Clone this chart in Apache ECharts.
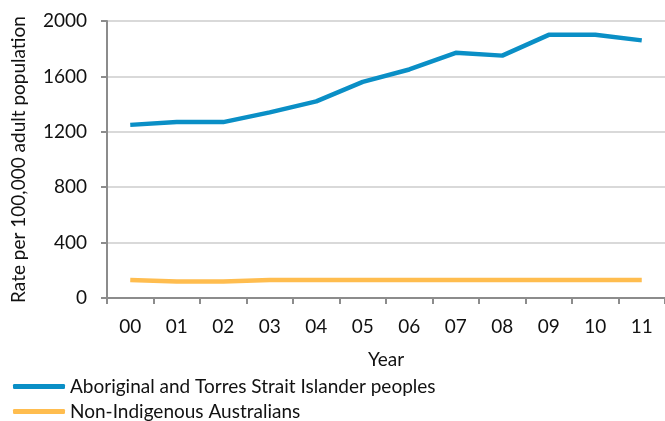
<!DOCTYPE html>
<html><head><meta charset="utf-8">
<script src="https://cdn.jsdelivr.net/npm/echarts@6/dist/echarts.min.js"></script>
<style>html,body{margin:0;padding:0;background:#fff}#c{width:665px;height:421px}</style>
</head><body><div id="c"></div>
<script>
const years = ['00','01','02','03','04','05','06','07','08','09','10','11'];
const indigenous = [1250,1270,1270,1340,1420,1560,1650,1770,1750,1900,1900,1860];
const nonIndigenous = [130,120,120,130,130,130,130,130,130,130,130,130];
const yTicks = [0,400,800,1200,1600,2000];
const seriesNames = ['Aboriginal and Torres Strait Islander peoples','Non-Indigenous Australians'];
const FONT = 'Lato';
const TXT = '#111';
const chart = echarts.init(document.getElementById('c'));
chart.setOption({
  animation:false,
  textStyle:{fontFamily:FONT},
  grid:{left:107,top:21,right:0,bottom:123},
  legend:{
    orient:'vertical',left:13,top:377,itemWidth:52,itemHeight:5,itemGap:6,padding:0,
    textStyle:{fontFamily:FONT,fontSize:19,color:TXT},
    data:seriesNames.map(n=>({name:n,icon:'roundRect'}))
  },
  xAxis:{
    type:'category',data:years,boundaryGap:true,
    name:'Year',nameLocation:'middle',nameGap:52,
    nameTextStyle:{fontFamily:FONT,fontSize:19,color:TXT},
    axisLine:{lineStyle:{color:'#8c8c8c',width:2}},
    axisTick:{show:true,length:6,lineStyle:{color:'#8c8c8c',width:2}},
    axisLabel:{fontFamily:FONT,fontSize:19,color:TXT,margin:19},
    splitLine:{show:false}
  },
  yAxis:{
    type:'value',min:0,max:2000,interval:400,
    name:'Rate per 100,000 adult population',nameLocation:'middle',nameGap:79,
    nameTextStyle:{fontFamily:FONT,fontSize:19,color:TXT},
    axisLine:{show:true,lineStyle:{color:'#8c8c8c',width:2}},
    axisTick:{show:true,length:6,lineStyle:{color:'#8c8c8c',width:2}},
    axisLabel:{fontFamily:FONT,fontSize:19,color:TXT,margin:20,
      formatter:v=>yTicks.includes(v)?String(v):''},
    splitLine:{show:true,lineStyle:{color:'#d9d9d9',width:2}}
  },
  series:[
    {name:seriesNames[0],type:'line',data:indigenous,symbol:'none',
     lineStyle:{color:'#0a8fc6',width:4.5},itemStyle:{color:'#0a8fc6'}},
    {name:seriesNames[1],type:'line',data:nonIndigenous,symbol:'none',
     lineStyle:{color:'#ffbd4f',width:4.5},itemStyle:{color:'#ffbd4f'}}
  ]
});
</script></body></html>
